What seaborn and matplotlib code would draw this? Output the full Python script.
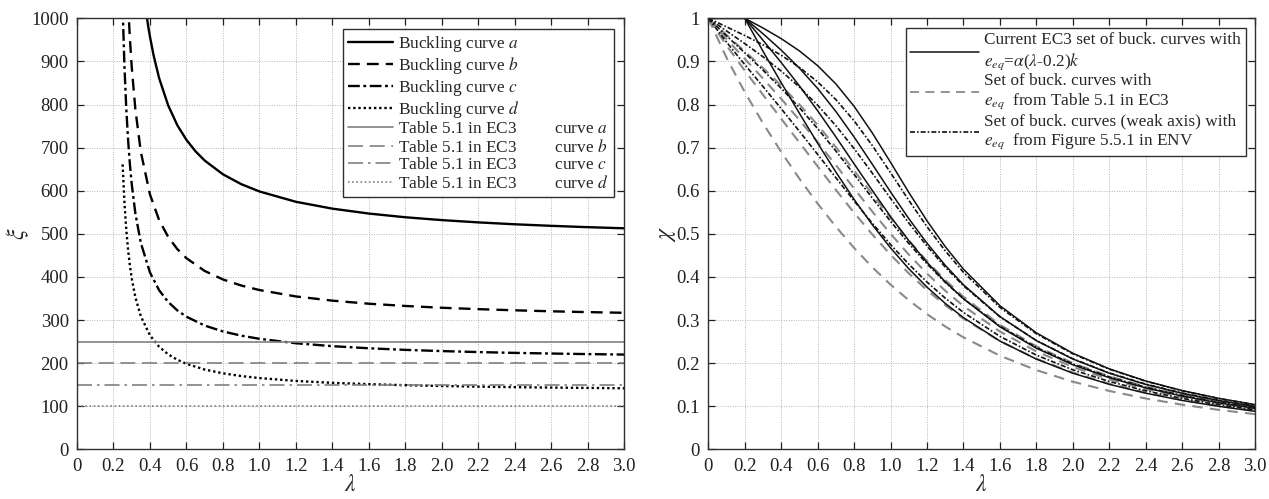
import matplotlib
matplotlib.use("Agg")
import numpy as np
import pandas as pd
import seaborn as sns
import matplotlib.pyplot as plt
from matplotlib.lines import Line2D

# ---------------- data: left panel (xi vs lambda) ----------------
lam_a = [0.38, 0.39, 0.40, 0.42, 0.45, 0.50, 0.55, 0.60, 0.65, 0.70, 0.80, 0.90, 1.0,
         1.2, 1.4, 1.6, 1.8, 2.0, 2.2, 2.4, 2.6, 2.8, 3.0]
xi_a = [1010.4, 982.4, 957.2, 913.7, 861.5, 797.7, 752.0, 717.9, 691.3, 670.0, 638.1, 615.3, 598.3,
        574.3, 558.4, 547.0, 538.4, 531.8, 526.5, 522.1, 518.5, 515.4, 512.8]

lam_b = [0.28, 0.29, 0.30, 0.32, 0.35, 0.40, 0.45, 0.50, 0.55, 0.60, 0.70, 0.80, 0.90, 1.0,
         1.2, 1.4, 1.6, 1.8, 2.0, 2.2, 2.4, 2.6, 2.8, 3.0]
xi_b = [1034.6, 952.5, 886.8, 788.3, 689.7, 591.2, 532.1, 492.7, 464.5, 443.4, 413.8, 394.1, 380.1, 369.5,
        354.7, 344.9, 337.8, 332.6, 328.4, 325.2, 322.5, 320.2, 318.3, 316.7]

lam_cd = [0.25, 0.26, 0.27, 0.28, 0.29, 0.30, 0.32, 0.35, 0.40, 0.45, 0.50, 0.55, 0.60, 0.70,
          0.80, 0.90, 1.0, 1.2, 1.4, 1.6, 1.8, 2.0, 2.2, 2.4, 2.6, 2.8, 3.0]
xi_c = [1025.5, 888.8, 791.1, 717.9, 660.9, 615.3, 546.9, 478.6, 410.2, 369.2, 341.8, 322.3, 307.7, 287.1,
        273.5, 263.7, 256.4, 246.1, 239.3, 234.4, 230.7, 227.9, 225.6, 223.7, 222.2, 220.9, 219.8]
xi_d = [661.0, 572.9, 509.9, 462.7, 426.0, 396.6, 352.5, 308.5, 264.4, 238.0, 220.3, 207.7, 198.3, 185.1,
        176.3, 170.0, 165.3, 158.6, 154.2, 151.1, 148.7, 146.9, 145.4, 144.2, 143.2, 142.4, 141.6]

table_xi = [250, 200, 150, 100]
curve_names = ["a", "b", "c", "d"]

# ---------------- data: right panel (chi vs lambda) ----------------
lam_chi = [0, 0.1, 0.2, 0.3, 0.4, 0.5, 0.6, 0.7, 0.8, 0.9, 1.0, 1.1, 1.2, 1.3, 1.4,
           1.6, 1.8, 2.0, 2.2, 2.4, 2.6, 2.8, 3.0]

chi_ec3_a = [1, 1, 1, 0.9775, 0.9528, 0.9243, 0.8900, 0.8477, 0.7957, 0.7339, 0.6656, 0.5960, 0.5300, 0.4703, 0.4179,
             0.3332, 0.2702, 0.2229, 0.1867, 0.1585, 0.1362, 0.1182, 0.1036]
chi_ec3_b = [1, 1, 1, 0.9641, 0.9261, 0.8842, 0.8371, 0.7837, 0.7245, 0.6612, 0.5970, 0.5352, 0.4781, 0.4269, 0.3817,
             0.3079, 0.2521, 0.2095, 0.1765, 0.1506, 0.1299, 0.1132, 0.0994]
chi_ec3_c = [1, 1, 1, 0.9491, 0.8973, 0.8430, 0.7854, 0.7247, 0.6622, 0.6004, 0.5399, 0.4842, 0.4338, 0.3888, 0.3492,
             0.2842, 0.2345, 0.1962, 0.1662, 0.1425, 0.1234, 0.1079, 0.0951]
chi_ec3_d = [1, 1, 1, 0.9235, 0.8504, 0.7793, 0.7100, 0.6431, 0.5797, 0.5208, 0.4671, 0.4189, 0.3762, 0.3385, 0.3055,
             0.2512, 0.2093, 0.1766, 0.1508, 0.1302, 0.1134, 0.0997, 0.0882]

chi_t250 = [1, 0.9612, 0.9233, 0.8847, 0.8439, 0.8000, 0.7524, 0.7010, 0.6468, 0.5914, 0.5367, 0.4846, 0.4364, 0.3927, 0.3538,
            0.2890, 0.2389, 0.2000, 0.1695, 0.1453, 0.1258, 0.1099, 0.0968]
chi_t200 = [1, 0.9520, 0.9060, 0.8602, 0.8131, 0.7639, 0.7125, 0.6592, 0.6050, 0.5515, 0.5000, 0.4518, 0.4077, 0.3679, 0.3324,
            0.2732, 0.2271, 0.1910, 0.1625, 0.1398, 0.1214, 0.1063, 0.0939]
chi_t150 = [1, 0.9369, 0.8786, 0.8224, 0.7669, 0.7115, 0.6563, 0.6017, 0.5488, 0.4984, 0.4514, 0.4083, 0.3692, 0.3342, 0.3031,
            0.2510, 0.2101, 0.1779, 0.1522, 0.1315, 0.1147, 0.1009, 0.0893]
chi_t100 = [1, 0.9083, 0.8286, 0.7565, 0.6898, 0.6277, 0.5699, 0.5163, 0.4671, 0.4223, 0.3820, 0.3458, 0.3136, 0.2850, 0.2597,
            0.2172, 0.1837, 0.1569, 0.1354, 0.1179, 0.1035, 0.0916, 0.0815]

chi_env1 = [1, 0.9802, 0.9601, 0.9385, 0.9143, 0.8862, 0.8524, 0.8114, 0.7620, 0.7046, 0.6417, 0.5777, 0.5164, 0.4604, 0.4107,
            0.3293, 0.2680, 0.2215, 0.1859, 0.1580, 0.1358, 0.1180, 0.1034]
chi_env2 = [1, 0.9706, 0.9413, 0.9107, 0.8775, 0.8404, 0.7983, 0.7507, 0.6976, 0.6406, 0.5821, 0.5250, 0.4715, 0.4227, 0.3793,
            0.3074, 0.2524, 0.2101, 0.1772, 0.1513, 0.1306, 0.1138, 0.1000]
chi_env3 = [1, 0.9593, 0.9198, 0.8796, 0.8375, 0.7925, 0.7440, 0.6921, 0.6378, 0.5828, 0.5288, 0.4775, 0.4302, 0.3874, 0.3492,
            0.2857, 0.2364, 0.1981, 0.1681, 0.1441, 0.1249, 0.1092, 0.0962]
chi_env4 = [1, 0.9447, 0.8926, 0.8416, 0.7902, 0.7377, 0.6841, 0.6300, 0.5763, 0.5243, 0.4751, 0.4295, 0.3880, 0.3507, 0.3175,
            0.2620, 0.2185, 0.1844, 0.1574, 0.1357, 0.1181, 0.1036, 0.0916]

x_ticks = [0, 0.2, 0.4, 0.6, 0.8, 1.0, 1.2, 1.4, 1.6, 1.8, 2.0, 2.2, 2.4, 2.6, 2.8, 3.0]
x_tick_labels = ["0", "0.2", "0.4", "0.6", "0.8", "1.0", "1.2", "1.4", "1.6", "1.8",
                 "2.0", "2.2", "2.4", "2.6", "2.8", "3.0"]
left_y_ticks = [0, 100, 200, 300, 400, 500, 600, 700, 800, 900, 1000]
right_y_ticks = [0, 0.1, 0.2, 0.3, 0.4, 0.5, 0.6, 0.7, 0.8, 0.9, 1.0]
right_y_labels = ["0", "0.1", "0.2", "0.3", "0.4", "0.5", "0.6", "0.7", "0.8", "0.9", "1"]

# ---------------- style ----------------
sns.set_style("ticks")
plt.rcParams['font.family'] = ['Liberation Serif', 'DejaVu Serif']
plt.rcParams['mathtext.fontset'] = 'stix'

GREY = "#808080"
TICK_FS = 13.5

fig = plt.figure(figsize=(12.69, 4.99), dpi=100)
ax1 = fig.add_axes([0.0607, 0.0996, 0.4311, 0.8637])
ax2 = fig.add_axes([0.5582, 0.0996, 0.4308, 0.8637])


def style_axes(ax, yticks, ylabels, ylim):
    ax.set_xlim(0, 3.0)
    ax.set_ylim(*ylim)
    ax.set_xticks(x_ticks)
    ax.set_xticklabels(x_tick_labels)
    ax.set_yticks(yticks)
    ax.set_yticklabels(ylabels)
    ax.grid(True, linestyle=(0, (1, 1.5)), color="#b5b5b5", linewidth=0.7)
    ax.set_axisbelow(True)
    ax.tick_params(direction="in", top=True, right=True, length=5, width=0.9,
                   labelsize=TICK_FS, colors="#202020", pad=6)
    for sp in ax.spines.values():
        sp.set_visible(True)
        sp.set_linewidth(1.0)
        sp.set_color("#303030")


# ---------------- left panel ----------------
black_styles = ["-", (0, (5, 3)), (0, (5, 1.5, 1.2, 1.5)), (0, (1, 1.2))]
grey_styles = ["-", (0, (9, 4)), (0, (9, 3, 1.5, 3)), (0, (1, 1.5))]
left_series = [(lam_a, xi_a), (lam_b, xi_b), (lam_cd, xi_c), (lam_cd, xi_d)]

handles = []
labels = []
for (lx, ly), st, nm in zip(left_series, black_styles, curve_names):
    sns.lineplot(x=lx, y=ly, ax=ax1, color="black", linewidth=1.7, linestyle=st,
                 estimator=None, sort=False)
    handles.append(Line2D([], [], color="black", linewidth=1.7, linestyle=st))
    labels.append("Buckling curve $%s$" % nm)
for v, st, nm in zip(table_xi, grey_styles, curve_names):
    sns.lineplot(x=[0, 3.0], y=[v, v], ax=ax1, color=GREY, linewidth=1.2, linestyle=st,
                 estimator=None, sort=False)
    handles.append(Line2D([], [], color=GREY, linewidth=1.2, linestyle=st))
    labels.append("Table 5.1 in EC3         curve $%s$" % nm)

style_axes(ax1, left_y_ticks, [str(v) for v in left_y_ticks], (0, 1000))
ax1.set_xlabel(r"$\lambda$", fontsize=17, labelpad=0)
ax1.set_ylabel(r"$\xi$", fontsize=17, labelpad=0)
leg1 = ax1.legend(handles, labels, loc="upper right", fontsize=12.4, frameon=True,
                  fancybox=False, edgecolor="#303030", framealpha=1, borderaxespad=0.6,
                  handlelength=2.6, handletextpad=0.3, labelspacing=0.08, borderpad=0.3)
leg1.get_frame().set_linewidth(1.0)

# ---------------- right panel ----------------
ec3_set = [chi_ec3_a, chi_ec3_b, chi_ec3_c, chi_ec3_d]
table_set = [chi_t250, chi_t200, chi_t150, chi_t100]
env_set = [chi_env1, chi_env2, chi_env3, chi_env4]

grey_dash = (0, (5, 3.5))
env_dash = (0, (3, 1.2, 1, 1.2))

for ys in table_set:
    sns.lineplot(x=lam_chi, y=ys, ax=ax2, color="#8a8a8a", linewidth=1.5, linestyle=grey_dash,
                 estimator=None, sort=False)
for ys in env_set:
    sns.lineplot(x=lam_chi, y=ys, ax=ax2, color="#111111", linewidth=1.2, linestyle=env_dash,
                 estimator=None, sort=False)
for ys in ec3_set:
    sns.lineplot(x=lam_chi, y=ys, ax=ax2, color="#111111", linewidth=1.1, linestyle="-",
                 estimator=None, sort=False)

style_axes(ax2, right_y_ticks, right_y_labels, (0, 1))
ax2.set_xlabel(r"$\lambda$", fontsize=17, labelpad=0)
ax2.set_ylabel(r"$\chi$", fontsize=17, labelpad=-1)

h2 = [Line2D([], [], color="#111111", linewidth=1.1, linestyle="-"),
      Line2D([], [], color="#8a8a8a", linewidth=1.3, linestyle=grey_dash),
      Line2D([], [], color="#111111", linewidth=1.2, linestyle=env_dash)]
l2 = ["Current EC3 set of buck. curves with\n$e_{eq}$=$\\alpha$($\\lambda$-0.2)$k$",
      "Set of buck. curves with\n$e_{eq}$  from Table 5.1 in EC3",
      "Set of buck. curves (weak axis) with\n$e_{eq}$  from Figure 5.5.1 in ENV"]
leg2 = ax2.legend(h2, l2, loc="upper right", fontsize=12.4, frameon=True,
                  fancybox=False, edgecolor="#303030", framealpha=1, borderaxespad=0.55,
                  handlelength=4.0, handletextpad=0.3, labelspacing=0.1, borderpad=0.25)
leg2.get_frame().set_linewidth(1.0)

fig.savefig("out.png", dpi=100)
